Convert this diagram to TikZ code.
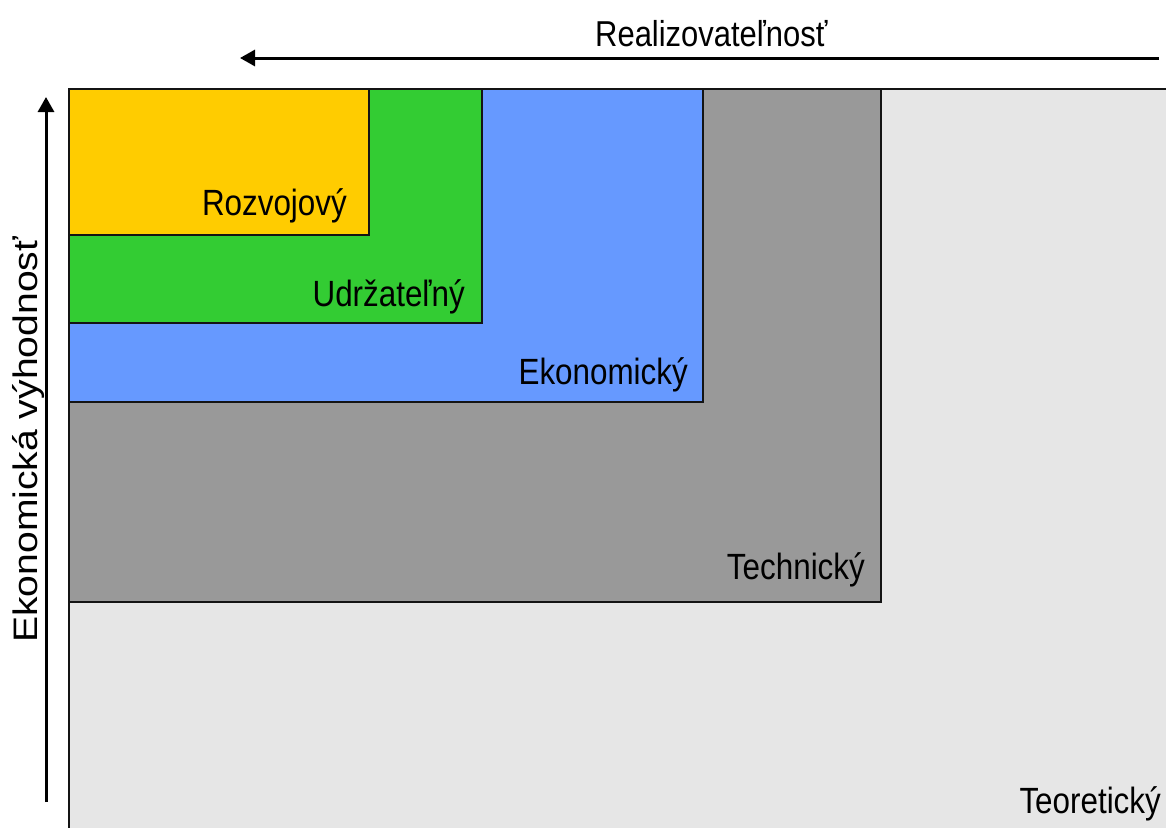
\documentclass[tikz,border=0pt]{standalone}
\usepackage{fontspec}
\setmainfont{Liberation Sans}
\newfontfamily\condfont[FakeStretch=0.86]{Liberation Sans}
\newfontfamily\widefont[FakeStretch=1.15]{Liberation Sans}
\usetikzlibrary{arrows.meta}
\definecolor{cYellow}{HTML}{FFCC00}
\definecolor{cGreen}{HTML}{33CC33}
\definecolor{cBlue}{HTML}{6699FF}
\definecolor{cDark}{HTML}{999999}
\definecolor{cLight}{HTML}{E6E6E6}
\definecolor{cLine}{HTML}{141414}
\tikzset{
  zone/.style={draw=cLine, line width=2pt},
  zonelabel/.style={inner sep=0pt, anchor=base east, font=\condfont\fontsize{36.5}{40}\selectfont},
  axisarrow/.style={line width=3pt, -{Triangle[length=15pt, width=16pt]}},
}
\begin{document}
\begin{tikzpicture}[x=1pt, y=-1pt]
\useasboundingbox (0,0) rectangle (1166,827);
\begin{scope}
\clip (0,0) rectangle (1166,827);
\fill[white] (0,0) rectangle (1166,827);
\path[zone, fill=cLight] (69,89) rectangle (1180,840);
\path[zone, fill=cDark] (69,89) rectangle (881,602);
\path[zone, fill=cBlue] (69,89) rectangle (703,402);
\path[zone, fill=cGreen] (69,89) rectangle (482,323);
\path[zone, fill=cYellow] (69,89) rectangle (369,235);
\end{scope}
\node[zonelabel] (rozv) at (347,215) {Rozvojový};
\node[zonelabel] (udrz) at (465,306) {Udržateľný};
\node[zonelabel] (ekon) at (688,384) {Ekonomický};
\node[zonelabel] (tech) at (865,579) {Technický};
\node[zonelabel] (teor) at (1161,813) {Teoretický};
% axes
\coordinate (hstart) at (1159,58);
\coordinate (hend) at (240,58);
\draw[axisarrow] (hstart) -- (hend);
\node[inner sep=0pt, anchor=base west, font=\condfont\fontsize{36}{40}\selectfont] (realiz) at (595,46) {Realizovateľnosť};
\coordinate (vstart) at (46,802);
\coordinate (vend) at (46,97);
\draw[axisarrow] (vstart) -- (vend);
\node[inner sep=0pt, anchor=base west, rotate=90, font=\widefont\fontsize{34}{40}\selectfont] (vyhod) at (37,643) {Ekonomická výhodnosť};
\end{tikzpicture}
\end{document}
